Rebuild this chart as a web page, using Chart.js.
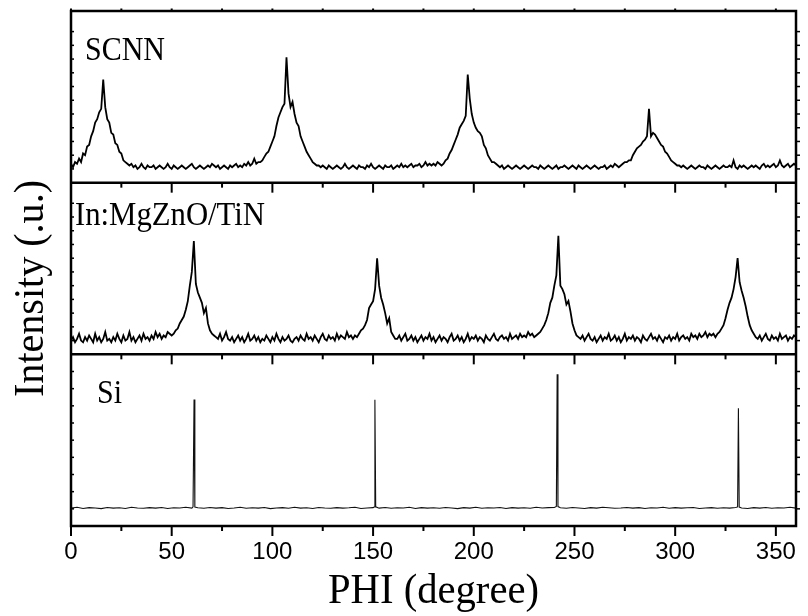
<!DOCTYPE html>
<html>
<head>
<meta charset="utf-8">
<title>PHI scan</title>
<script src="https://cdn.jsdelivr.net/npm/chart.js@4.4.1/dist/chart.umd.min.js"></script>
<style>
  html, body { margin: 0; padding: 0; background: #fff; }
  #wrap { width: 808px; height: 616px; }
</style>
</head>
<body>
<div id="wrap"><canvas id="phi-chart" width="808" height="616"></canvas></div>
<script>
'use strict';

// ── Data ─────────────────────────────────────────────────────────────────────
// SCNN and In:MgZnO/TiN are sampled every degree starting at 0
const phiStart = 0;
const phiStep  = 1;

const scnnCounts = [
  11, 9, 12, 11, 14, 12, 17, 16, 21, 22,
  27, 30, 35, 37, 41, 43, 60, 44, 37, 35,
  29, 28, 23, 22, 18, 17, 13, 12, 11, 10,
  11, 9, 10, 8, 9, 11, 9, 8, 10, 9,
  9, 10, 8, 9, 10, 9, 8, 9, 11, 9,
  8, 10, 9, 8, 9, 10, 9, 8, 9, 10,
  11, 9, 8, 9, 10, 9, 8, 9, 10, 9,
  11, 10, 9, 10, 8, 9, 10, 9, 8, 10,
  9, 10, 11, 9, 10, 9, 11, 10, 12, 10,
  11, 14, 11, 12, 12, 13, 15, 17, 18, 21,
  24, 27, 33, 38, 41, 44, 46, 73, 52, 44,
  47, 40, 35, 33, 27, 24, 21, 18, 16, 14,
  12, 11, 10, 10, 9, 10, 9, 8, 10, 9,
  8, 9, 10, 9, 8, 9, 11, 9, 8, 9,
  10, 9, 8, 10, 9, 9, 8, 10, 9, 11,
  9, 8, 9, 10, 9, 8, 10, 9, 9, 10,
  8, 9, 10, 9, 11, 9, 10, 9, 10, 11,
  9, 10, 10, 11, 9, 10, 12, 10, 11, 10,
  11, 10, 12, 11, 10, 11, 13, 14, 17, 19,
  22, 25, 28, 32, 34, 36, 39, 63, 49, 40,
  35, 32, 30, 29, 27, 22, 20, 16, 14, 12,
  12, 11, 10, 9, 10, 8, 9, 10, 9, 8,
  9, 10, 9, 8, 9, 10, 9, 8, 9, 10,
  9, 9, 8, 10, 9, 8, 9, 10, 9, 8,
  9, 10, 8, 9, 9, 10, 9, 8, 9, 10,
  9, 8, 10, 9, 8, 9, 10, 9, 8, 9,
  10, 9, 8, 9, 9, 10, 8, 9, 10, 9,
  11, 10, 9, 10, 11, 12, 12, 13, 13, 16,
  18, 20, 21, 22, 24, 25, 27, 43, 27, 29,
  28, 26, 24, 22, 21, 18, 17, 15, 13, 12,
  11, 10, 10, 9, 10, 9, 8, 9, 10, 9,
  8, 9, 10, 9, 9, 8, 10, 9, 8, 9,
  10, 9, 8, 9, 10, 9, 9, 10, 9, 13,
  9, 8, 10, 9, 10, 9, 8, 9, 10, 9,
  10, 9, 8, 10, 11, 9, 10, 9, 10, 11,
  9, 10, 13, 10, 9, 10, 11, 9, 10, 11,
  10
];

const inMgCounts = [
  8, 10, 7, 9, 12, 8, 7, 10, 8, 11,
  9, 7, 12, 8, 10, 7, 9, 13, 8, 9,
  7, 10, 8, 12, 9, 7, 11, 8, 9, 13,
  8, 10, 7, 9, 11, 8, 12, 9, 10, 8,
  11, 9, 13, 10, 12, 9, 11, 10, 13, 12,
  11, 12, 14, 15, 18, 20, 22, 26, 31, 40,
  48, 66, 41, 36, 33, 30, 24, 27, 18, 14,
  12, 11, 10, 9, 12, 8, 10, 13, 9, 8,
  10, 7, 9, 11, 8, 10, 7, 9, 12, 8,
  9, 11, 8, 10, 7, 9, 8, 11, 9, 7,
  10, 8, 12, 9, 7, 10, 8, 9, 11, 8,
  7, 9, 10, 8, 11, 9, 8, 12, 9, 10,
  8, 11, 9, 7, 10, 12, 9, 8, 11, 9,
  10, 8, 12, 9, 11, 10, 9, 13, 10, 11,
  9, 11, 10, 12, 14, 15, 17, 20, 27, 29,
  31, 38, 56, 40, 33, 29, 24, 18, 21, 13,
  11, 9, 9, 11, 8, 10, 12, 8, 9, 11,
  8, 10, 7, 9, 11, 8, 10, 9, 12, 8,
  10, 7, 9, 11, 8, 10, 9, 7, 10, 12,
  8, 9, 11, 8, 10, 7, 9, 12, 8, 10,
  9, 11, 8, 10, 9, 7, 11, 9, 8, 10,
  12, 9, 8, 10, 11, 9, 10, 8, 12, 9,
  10, 11, 9, 12, 10, 11, 10, 13, 11, 12,
  10, 11, 12, 13, 15, 17, 20, 24, 30, 33,
  40, 46, 69, 40, 38, 35, 29, 31, 25, 18,
  14, 11, 10, 9, 11, 8, 10, 12, 9, 8,
  10, 7, 9, 11, 8, 10, 9, 12, 8, 9,
  11, 8, 10, 7, 9, 12, 8, 10, 9, 11,
  8, 10, 9, 7, 11, 9, 8, 10, 12, 9,
  10, 8, 11, 9, 7, 10, 9, 11, 8, 10,
  9, 12, 8, 10, 11, 9, 10, 8, 12, 10,
  11, 9, 12, 10, 11, 13, 10, 12, 11, 12,
  10, 12, 13, 15, 17, 21, 26, 30, 33, 38,
  45, 56, 42, 37, 33, 28, 22, 17, 14, 12,
  10, 9, 11, 8, 10, 12, 9, 8, 11, 9,
  10, 8, 12, 9, 10, 11, 8, 10, 9, 11,
  10
];

// Si substrate: sparse baseline plus the four sharp reflections
const siPhi = [
  0, 3, 6, 9, 12, 15, 18, 21, 24, 27, 30, 33, 36, 39, 42, 45, 48, 51, 54, 57, 60,
  60.6, 61.1, 61.5,
  63, 66, 69, 72, 75, 78, 81, 84, 87, 90, 93, 96, 99, 102, 105, 108, 111, 114, 117,
  120, 123, 126, 129, 132, 135, 138, 141, 144, 147, 150,
  150.5, 150.9, 151.3,
  153, 156, 159, 162, 165, 168, 171, 174, 177, 180, 183, 186, 189, 192, 195, 198,
  201, 204, 207, 210, 213, 216, 219, 222, 225, 228, 231, 234, 237, 240,
  241.0, 241.4, 241.8,
  243, 246, 249, 252, 255, 258, 261, 264, 267, 270, 273, 276, 279, 282, 285, 288,
  291, 294, 297, 300, 303, 306, 309, 312, 315, 318, 321, 324, 327, 330,
  331.0, 331.4, 331.8,
  333, 336, 339, 342, 345, 348, 351, 354, 357, 360
];
const siCounts = [
  10.4, 10.9, 10.2, 10.7, 10.5, 10.1, 10.8, 10.4, 10.6, 10.2, 10.9, 10.5, 10.3, 10.7,
  10.4, 10.8, 10.2, 10.6, 10.5, 10.9, 10.4,
  11.2, 73.7, 11.0,
  10.6, 10.3, 10.8, 10.4, 10.7, 10.2, 10.5, 10.9, 10.3, 10.6, 10.4, 10.8, 10.1, 10.5,
  10.7, 10.3, 10.9, 10.4, 10.6, 10.2, 10.8, 10.5, 10.3, 10.7, 10.4, 10.6, 10.9, 10.2,
  10.5, 10.7,
  11.1, 73.6, 11.2,
  10.4, 10.8, 10.3, 10.6, 10.5, 10.9, 10.2, 10.7, 10.4, 10.6, 10.3, 10.8, 10.5, 10.1,
  10.7, 10.4, 10.9, 10.3, 10.6, 10.5, 10.8, 10.2, 10.7, 10.4, 10.6, 10.3, 10.9, 10.5,
  10.7, 10.8,
  11.4, 88.4, 11.3,
  10.6, 10.3, 10.8, 10.5, 10.2, 10.7, 10.4, 10.9, 10.6, 10.3, 10.5, 10.8, 10.4, 10.7,
  10.2, 10.6, 10.5, 10.9, 10.3, 10.7, 10.4, 10.6, 10.8, 10.2, 10.5, 10.7, 10.3, 10.6,
  10.4, 10.8,
  11.1, 68.6, 11.0,
  10.5, 10.2, 10.7, 10.4, 10.8, 10.3, 10.6, 10.5, 10.9, 10.4
];

const panelNames     = ['SCNN', 'In:MgZnO/TiN', 'Si'];
const phiTickValues  = [0, 50, 100, 150, 200, 250, 300, 350];
const phiMinorTicks  = [25, 75, 125, 175, 225, 275, 325];

// ── Helpers ──────────────────────────────────────────────────────────────────
const SERIF = '"Liberation Serif", "Times New Roman", serif';
const SANS  = '"Liberation Sans", Arial, sans-serif';

/** Evenly sampled counts -> {x, y} points */
function toPoints(vals) {
  return vals.map((v, i) => ({ x: phiStart + i * phiStep, y: v }));
}

/** Draw text squeezed horizontally to a given width */
function fitText(ctx, text, x, y, size, width, align = 'left') {
  ctx.save();
  ctx.font = `${size}px ${SERIF}`;
  const w = ctx.measureText(text).width;
  const k = width / w;
  ctx.translate(x, y);
  ctx.scale(k, 1);
  ctx.textAlign = align;
  ctx.textBaseline = 'alphabetic';
  ctx.fillText(text, 0, 0);
  ctx.restore();
}

// ── Frame, ticks and labels ──────────────────────────────────────────────────
const framePlugin = {
  id: 'framePlugin',
  afterDatasetsDraw(chart) {
    const { ctx, chartArea: a, scales } = chart;
    const xs = scales.x;
    // top to bottom
    const panels = [scales.yScnn, scales.yInMg, scales.ySi].sort((p, q) => p.top - q.top);

    ctx.save();
    ctx.strokeStyle = '#000';
    ctx.fillStyle = '#000';
    ctx.lineCap = 'butt';

    const seg = (x1, y1, x2, y2) => {
      ctx.beginPath();
      ctx.moveTo(x1, y1);
      ctx.lineTo(x2, y2);
      ctx.stroke();
    };

    // outer box and panel dividers
    ctx.lineWidth = 2.5;
    ctx.strokeRect(a.left, a.top, a.right - a.left, a.bottom - a.top);
    panels.slice(0, 2).forEach(s => seg(a.left, s.bottom, a.right, s.bottom));

    // x ticks hang below every panel
    ctx.lineWidth = 2;
    panels.forEach(s => {
      phiTickValues.forEach(v => {
        const px = xs.getPixelForValue(v);
        seg(px, s.bottom, px, s.bottom + 10);
      });
      phiMinorTicks.forEach(v => {
        const px = xs.getPixelForValue(v);
        seg(px, s.bottom, px, s.bottom + 5);
      });
    });
    // small nubs on the top edge
    phiTickValues.concat(phiMinorTicks).forEach(v => {
      const px = xs.getPixelForValue(v);
      seg(px, a.top, px, a.top - 2.5);
    });

    // y ticks: inside on the left, outside on the right
    ctx.lineWidth = 1.5;
    panels.forEach(s => {
      s.ticks.forEach((t, i) => {
        if (i === 0 || i === s.ticks.length - 1) return;
        const py = s.getPixelForTick(i);
        seg(a.left, py, a.left + 3, py);
        seg(a.right, py, a.right + 4, py);
      });
    });

    // panel names
    fitText(ctx, 'SCNN', a.left + 14, scales.yScnn.top + 49, 34, 80);
    fitText(ctx, 'In:MgZnO/TiN', a.left + 4, scales.yInMg.top + 42, 33, 190);
    fitText(ctx, 'Si', a.left + 26, scales.ySi.top + 49, 34, 25);

    // axis titles
    fitText(ctx, 'PHI (degree)', (a.left + a.right) / 2, 603, 42, 211, 'center');
    ctx.save();
    ctx.translate(43, 288.5);
    ctx.rotate(-Math.PI / 2);
    fitText(ctx, 'Intensity (.u.)', 0, 0, 42, 217, 'center');
    ctx.restore();

    ctx.restore();
  }
};

// ── Chart ────────────────────────────────────────────────────────────────────
function panelAxis(step) {
  return {
    type: 'linear',
    position: 'left',
    stack: 'phi',
    stackWeight: 1,
    min: 0,
    max: 100,
    ticks: { display: false, stepSize: step },
    grid: { display: false, drawTicks: false },
    border: { display: false },
    afterFit: s => { s.width = 0; },
  };
}

const lineStyle = (width, color) => ({
  borderColor: color,
  borderWidth: width,
  pointRadius: 0,
  tension: 0,
  fill: false,
});

new Chart(document.getElementById('phi-chart'), {
  type: 'line',
  data: {
    datasets: [
      { label: panelNames[0], data: toPoints(scnnCounts), yAxisID: 'yScnn', ...lineStyle(1.8, '#000') },
      { label: panelNames[1], data: toPoints(inMgCounts), yAxisID: 'yInMg', ...lineStyle(1.8, '#000') },
      { label: panelNames[2], data: siPhi.map((p, i) => ({ x: p, y: siCounts[i] })), yAxisID: 'ySi', ...lineStyle(1.1, '#111') },
    ],
  },
  options: {
    responsive: false,
    animation: false,
    layout: { padding: { left: 71, right: 4, top: 11, bottom: 0 } },
    plugins: {
      legend: { display: false },
      tooltip: { enabled: false },
    },
    scales: {
      x: {
        type: 'linear',
        position: 'bottom',
        min: 0,
        max: 360,
        afterBuildTicks: s => { s.ticks = phiTickValues.map(v => ({ value: v })); },
        afterFit: s => { s.height = 90; },
        ticks: {
          color: '#000',
          font: { family: SANS, size: 24 },
          padding: 12,
          maxRotation: 0,
          autoSkip: false,
        },
        grid: { display: false, drawTicks: false },
        border: { display: false },
      },
      // stacked panels are laid out from the last defined axis downwards
      ySi:   panelAxis(10),
      yInMg: panelAxis(8),
      yScnn: panelAxis(8),
    },
  },
  plugins: [framePlugin],
});
</script>
</body>
</html>
